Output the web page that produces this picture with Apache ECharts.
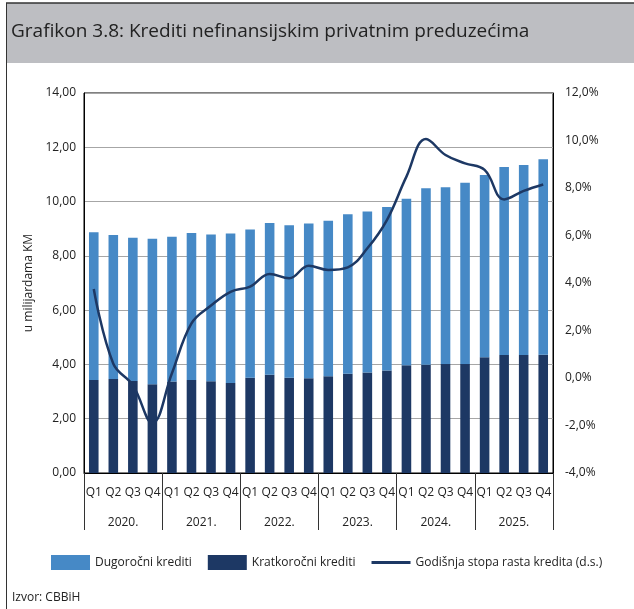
<!DOCTYPE html>
<head>
    <meta charset="utf-8">
    <title>Grafikon 3.8</title>
    <script src="https://cdn.jsdelivr.net/npm/echarts@6/dist/echarts.min.js"></script>
    <style>
        html, body { margin: 0; padding: 0; background: #fff; }
    </style>
</head>
<body>
    <div id="main" style="width:634px;height:609px"></div>
    <script type="text/javascript">
    // podaci
    var kvartali = ['Q1','Q2','Q3','Q4','Q1','Q2','Q3','Q4','Q1','Q2','Q3','Q4',
                    'Q1','Q2','Q3','Q4','Q1','Q2','Q3','Q4','Q1','Q2','Q3','Q4'];
    var godine = ['2020.', '2021.', '2022.', '2023.', '2024.', '2025.'];
    // kratkoročni krediti (mlrd KM)
    var kratkorocni = [3.43, 3.46, 3.39, 3.27, 3.37, 3.43, 3.38, 3.32, 3.51, 3.62, 3.51, 3.49,
                       3.56, 3.66, 3.70, 3.78, 3.97, 3.99, 4.02, 4.02, 4.26, 4.35, 4.35, 4.36];
    // dugoročni krediti (mlrd KM)
    var dugorocni = [5.44, 5.31, 5.28, 5.36, 5.33, 5.41, 5.41, 5.50, 5.46, 5.59, 5.62, 5.70,
                     5.73, 5.87, 5.93, 6.02, 6.13, 6.50, 6.51, 6.67, 6.72, 6.92, 7.00, 7.20];
    // godišnja stopa rasta (%)
    var stopaRasta = [3.75, 0.6, -0.3, -1.9, 0.2, 2.3, 3.05, 3.63, 3.85, 4.38, 4.2, 4.73,
                      4.55, 4.66, 5.46, 6.65, 8.48, 10.06, 9.39, 9.04, 8.76, 7.52, 7.88, 8.15];

    var font = 'Open Sans';
    var myChart = echarts.init(document.getElementById('main'));
    myChart.setOption({
        animation: false,
        textStyle: { fontFamily: font },
        graphic: [
            { type: 'rect', shape: { x: 6, y: 3, width: 628, height: 60 }, style: { fill: '#bdbec2' }, z: -1 },
            { type: 'line', shape: { x1: 6, y1: 3, x2: 634, y2: 3 }, style: { stroke: '#333', lineWidth: 1.5 } },
            { type: 'line', shape: { x1: 6.5, y1: 3, x2: 6.5, y2: 609 }, style: { stroke: '#333', lineWidth: 1 } },
            { type: 'text', left: 11, top: 22, style: { text: 'Grafikon 3.8: Krediti nefinansijskim privatnim preduzećima', fontSize: 19, fontFamily: font, fill: '#222' } },
            { type: 'text', left: 12, top: 592, style: { text: 'Izvor: CBBiH', fontSize: 12, fontFamily: font, fill: '#222' } }
        ],
        grid: {
            left: 84, right: 81, top: 93, bottom: 136,
            show: true, borderColor: '#000', borderWidth: 1
        },
        legend: {
            left: 46, top: 550,
            itemWidth: 39, itemHeight: 15, itemGap: 16,
            textStyle: { fontSize: 12, color: '#222', fontFamily: font },
            data: [
                { name: 'Dugoročni krediti', icon: 'rect' },
                { name: 'Kratkoročni krediti', icon: 'rect' },
                { name: 'Godišnja stopa rasta kredita (d.s.)', icon: 'path://M0,0L40,0L40,3L0,3Z' }
            ]
        },
        xAxis: [
            {
                type: 'category', data: kvartali, position: 'bottom',
                axisLine: { onZero: false, lineStyle: { color: '#000' } },
                axisTick: { show: false },
                axisLabel: { interval: 0, margin: 14, fontSize: 12, color: '#222' }
            },
            {
                type: 'category', data: godine, position: 'bottom',
                axisLine: { show: false, onZero: false },
                axisTick: { show: true, length: 57, lineStyle: { color: '#333' } },
                axisLabel: { margin: 44, fontSize: 12, color: '#222' }
            }
        ],
        yAxis: [
            {
                type: 'value', min: 0, max: 14, interval: 2,
                name: 'u milijardama KM', nameLocation: 'middle', nameGap: 42,
                nameTextStyle: { fontSize: 12, color: '#222' },
                axisLine: { show: true, lineStyle: { color: '#000' } },
                axisTick: { show: false },
                splitLine: { lineStyle: { color: '#a6a6a6' } },
                axisLabel: { fontSize: 12, color: '#222', margin: 8,
                    formatter: function (v) { return v.toFixed(2).replace('.', ','); } }
            },
            {
                type: 'value', min: -4, max: 12, interval: 2,
                axisLine: { show: true, lineStyle: { color: '#000' } },
                axisTick: { show: false },
                splitLine: { show: false },
                axisLabel: { fontSize: 12, color: '#222', margin: 12,
                    formatter: function (v) { return v.toFixed(1).replace('.', ',') + '%'; } }
            }
        ],
        series: [
            {
                name: 'Kratkoročni krediti', type: 'bar', stack: 'k', data: kratkorocni,
                barWidth: '49%', itemStyle: { color: '#1d3864' }
            },
            {
                name: 'Dugoročni krediti', type: 'bar', stack: 'k', data: dugorocni,
                barWidth: '49%', itemStyle: { color: '#4689c6' }
            },
            {
                name: 'Godišnja stopa rasta kredita (d.s.)', type: 'line', yAxisIndex: 1,
                data: stopaRasta, smooth: 0.4, symbol: 'none',
                lineStyle: { color: '#1d3864', width: 2.5 }, itemStyle: { color: '#1d3864' }
            }
        ]
    });
    </script>
</body>
